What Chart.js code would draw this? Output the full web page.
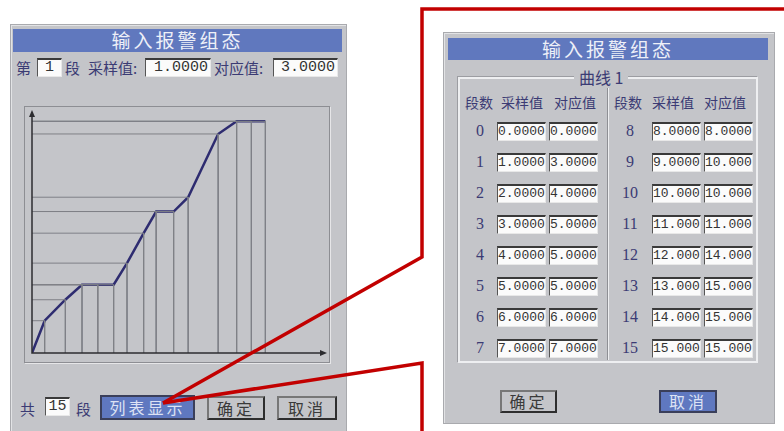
<!DOCTYPE html>
<html>
<head>
<meta charset="utf-8">
<script src="https://cdn.jsdelivr.net/npm/chart.js@4.4.1/dist/chart.umd.min.js"></script>
<style>
  body { margin: 0; width: 784px; height: 431px; background: #fff; position: relative; overflow: hidden;
         font-family: "Noto Sans CJK SC", sans-serif; }
  .abs { position: absolute; }
  .panel { background: #c4c5c9; border: 1px solid #a9aaae; box-shadow: inset 1px 1px 0 #e2e3e5; }
  .bar { background: #6078be; color: #eef0f8; text-align: center; font-size: 19px; letter-spacing: 3px; line-height: 22px; }
  .lbl { color: #3b3b74; font-size: 15px; line-height: 19px; white-space: nowrap; }
  .box { background: #fbfbfb; border-top: 2px solid #3a3a3a; border-left: 1px solid #555; border-right: 1px solid #e8e8e8;
         border-bottom: 1px solid #e8e8e8; box-sizing: border-box; font-family: "Liberation Mono", monospace;
         color: #333; text-align: right; padding-right: 2px; white-space: nowrap; }
  .btn { box-sizing: border-box; border: 2px solid #2e2e2e; border-top-color: #777; border-left-color: #777;
         text-align: center; font-size: 16px; letter-spacing: 3px; color: #3a3a3a; }
  .blue { background: #5f78c0; color: #dde3f4; }
  .gray { background: #c4c5c9; }
</style>
</head>
<body>
<!-- left dialog -->
<div class="abs panel" style="left:10px;top:24px;width:335px;height:420px;"></div>
<div class="abs bar" style="left:13px;top:29px;width:329px;height:23px;">输入报警组态</div>
<div class="abs lbl" style="left:16px;top:58px;">第</div>
<div class="abs box" id="segBox" style="left:37px;top:58px;width:25px;height:19px;font-size:15px;line-height:16px;text-align:center;padding:0;"></div>
<div class="abs lbl" style="left:65px;top:58px;">段</div>
<div class="abs lbl" style="left:88px;top:58px;">采样值:</div>
<div class="abs box" id="curSample" style="left:145px;top:58px;width:66px;height:19px;font-size:15px;line-height:16px;"></div>
<div class="abs lbl" style="left:214px;top:58px;">对应值:</div>
<div class="abs box" id="curMapped" style="left:273px;top:58px;width:65px;height:19px;font-size:15px;line-height:16px;"></div>

<div class="abs" style="left:24px;top:106px;width:306px;height:257px;border:1px solid #8d8e93;box-shadow:1px 1px 0 #e6e6e8;box-sizing:border-box;"></div>
<canvas id="curve" class="abs" width="306" height="257" style="left:24px;top:106px;"></canvas>

<div class="abs lbl" style="left:20px;top:399px;">共</div>
<div class="abs box" id="countBox" style="left:45px;top:397px;width:25px;height:19px;font-size:15px;line-height:16px;text-align:center;padding:0;"></div>
<div class="abs lbl" style="left:76px;top:399px;">段</div>
<div class="abs btn blue" style="left:100px;top:395px;width:95px;height:25px;line-height:21px;border-color:#3a3f5a;">列表显示</div>
<div class="abs btn gray" style="left:207px;top:396px;width:58px;height:24px;line-height:20px;">确定</div>
<div class="abs btn gray" style="left:277px;top:396px;width:60px;height:24px;line-height:20px;">取消</div>

<!-- right dialog -->
<div class="abs panel" style="left:443px;top:32px;width:330px;height:390px;"></div>
<div class="abs bar" style="left:448px;top:38px;width:320px;height:22px;">输入报警组态</div>
<div class="abs" style="left:458px;top:77px;width:300px;height:286px;border:2px solid #eeeff1;box-shadow:-1px -1px 0 #9c9da2;box-sizing:border-box;"></div>
<div class="abs" style="left:607px;top:86px;width:1px;height:274px;background:#8e8f94;"></div>
<div class="abs" style="left:608px;top:86px;width:1px;height:274px;background:#eeeff1;"></div>
<div class="abs lbl" style="left:574px;top:66px;padding:0 5px;background:#c4c5c9;font-size:16px;line-height:22px;">曲线 1</div>
<div id="table"></div>

<div class="abs btn gray" style="left:500px;top:390px;width:57px;height:23px;line-height:19px;">确定</div>
<div class="abs btn blue" style="left:659px;top:390px;width:58px;height:23px;line-height:19px;border-color:#3a3f5a;">取消</div>

<svg class="abs" style="left:0;top:0;" width="784" height="431">
  <polyline points="784,9 422,9 422,257 163,403" fill="none" stroke="#c20000" stroke-width="3.5"/>
  <polyline points="422,431 422,363 163,403" fill="none" stroke="#c20000" stroke-width="3.5"/>
</svg>

<script>
// curve as drawn on the left dialog (sample value on x, mapped value on y)
const chartX = [0, 0.76, 2.0, 3.0, 3.95, 4.9, 5.7, 6.7, 7.45, 8.5, 9.37, 11.17, 12.28, 13.16, 14.0];
const chartY = [0, 1.94, 3.2, 4.1, 4.1, 4.1, 5.4, 7.2, 8.5, 8.5, 9.36, 13.16, 13.92, 13.92, 13.92];
const axisMaxX = 17.7;
const axisMaxY = 14.6;

// list view on the right dialog
const segIndex = [0, 1, 2, 3, 4, 5, 6, 7, 8, 9, 10, 11, 12, 13, 14, 15];
const sampleVals = [0, 1, 2, 3, 4, 5, 6, 7, 8, 9, 10, 11, 12, 13, 14, 15];
const mappedVals = [0, 3, 4, 5, 5, 5, 6, 7, 8, 10, 10, 11, 14, 15, 15, 15];
const currentSeg = 1;
const segCount = 15;

function fmt(v) { return v < 10 ? v.toFixed(4) : v.toFixed(3); }

document.getElementById('segBox').textContent = currentSeg;
document.getElementById('curSample').textContent = fmt(sampleVals[currentSeg]);
document.getElementById('curMapped').textContent = fmt(mappedVals[currentSeg]);
document.getElementById('countBox').textContent = segCount;

// build list
const tbl = document.getElementById('table');
let html = '';
const heads = [[479, 522, 575], [628, 673, 725]];
heads.forEach(h => {
  html += `<div class="abs lbl" style="left:${h[0] - 15}px;top:93px;width:30px;text-align:center;font-size:14px;">段数</div>`;
  html += `<div class="abs lbl" style="left:${h[1] - 25}px;top:93px;width:50px;text-align:center;font-size:14px;">采样值</div>`;
  html += `<div class="abs lbl" style="left:${h[2] - 25}px;top:93px;width:50px;text-align:center;font-size:14px;">对应值</div>`;
});
const cols = [{ idx: 480, a: 497, b: 549, w: 49 }, { idx: 630, a: 652, b: 704, w: 49 }];
segIndex.forEach((s, i) => {
  const c = cols[i < 8 ? 0 : 1];
  const cy = 131 + (i % 8) * 31;
  html += `<div class="abs lbl" style="left:${c.idx - 15}px;top:${cy - 10}px;width:30px;text-align:center;font-family:'Liberation Serif',serif;font-size:16px;">${s}</div>`;
  html += `<div class="abs box" style="left:${c.a}px;top:${cy - 9}px;width:${c.w}px;height:19px;font-size:13px;line-height:16px;">${fmt(sampleVals[i])}</div>`;
  html += `<div class="abs box" style="left:${c.b}px;top:${cy - 9}px;width:${c.w}px;height:19px;font-size:13px;line-height:16px;">${fmt(mappedVals[i])}</div>`;
});
tbl.innerHTML = html;

// drop lines from each point to both axes
const dropSets = chartX.slice(1).map((x, k) => ({
  data: [{ x: 0, y: chartY[k + 1] }, { x: x, y: chartY[k + 1] }, { x: x, y: 0 }],
  borderColor: '#7f8087',
  borderWidth: 1,
  pointRadius: 0,
  tension: 0
}));

const arrowAxes = {
  id: 'arrowAxes',
  afterDraw(chart) {
    const { ctx, scales } = chart;
    const ox = scales.x.getPixelForValue(0), oy = scales.y.getPixelForValue(0);
    const ex = scales.x.getPixelForValue(axisMaxX), ey = scales.y.getPixelForValue(axisMaxY);
    ctx.save();
    ctx.strokeStyle = '#2c2c30';
    ctx.fillStyle = '#2c2c30';
    ctx.lineWidth = 1.5;
    ctx.beginPath();
    ctx.moveTo(ox, ey + 4); ctx.lineTo(ox, oy); ctx.lineTo(ex - 4, oy);
    ctx.stroke();
    ctx.beginPath();
    ctx.moveTo(ox, ey); ctx.lineTo(ox - 3, ey + 7); ctx.lineTo(ox + 3, ey + 7); ctx.closePath();
    ctx.fill();
    ctx.beginPath();
    ctx.moveTo(ex, oy); ctx.lineTo(ex - 7, oy - 3); ctx.lineTo(ex - 7, oy + 3); ctx.closePath();
    ctx.fill();
    ctx.restore();
  }
};

new Chart(document.getElementById('curve').getContext('2d'), {
  type: 'line',
  data: {
    datasets: [...dropSets, {
      data: chartX.map((x, i) => ({ x: x, y: chartY[i] })),
      borderColor: '#2e2c70',
      borderWidth: 2.5,
      pointRadius: 0,
      tension: 0
    }]
  },
  options: {
    responsive: false,
    animation: false,
    layout: { padding: { left: 8, top: 4, right: 3, bottom: 10 } },
    scales: {
      x: { type: 'linear', min: 0, max: axisMaxX, display: false },
      y: { type: 'linear', min: 0, max: axisMaxY, display: false }
    },
    plugins: { legend: { display: false }, tooltip: { enabled: false } }
  },
  plugins: [arrowAxes]
});
</script>
</body>
</html>
